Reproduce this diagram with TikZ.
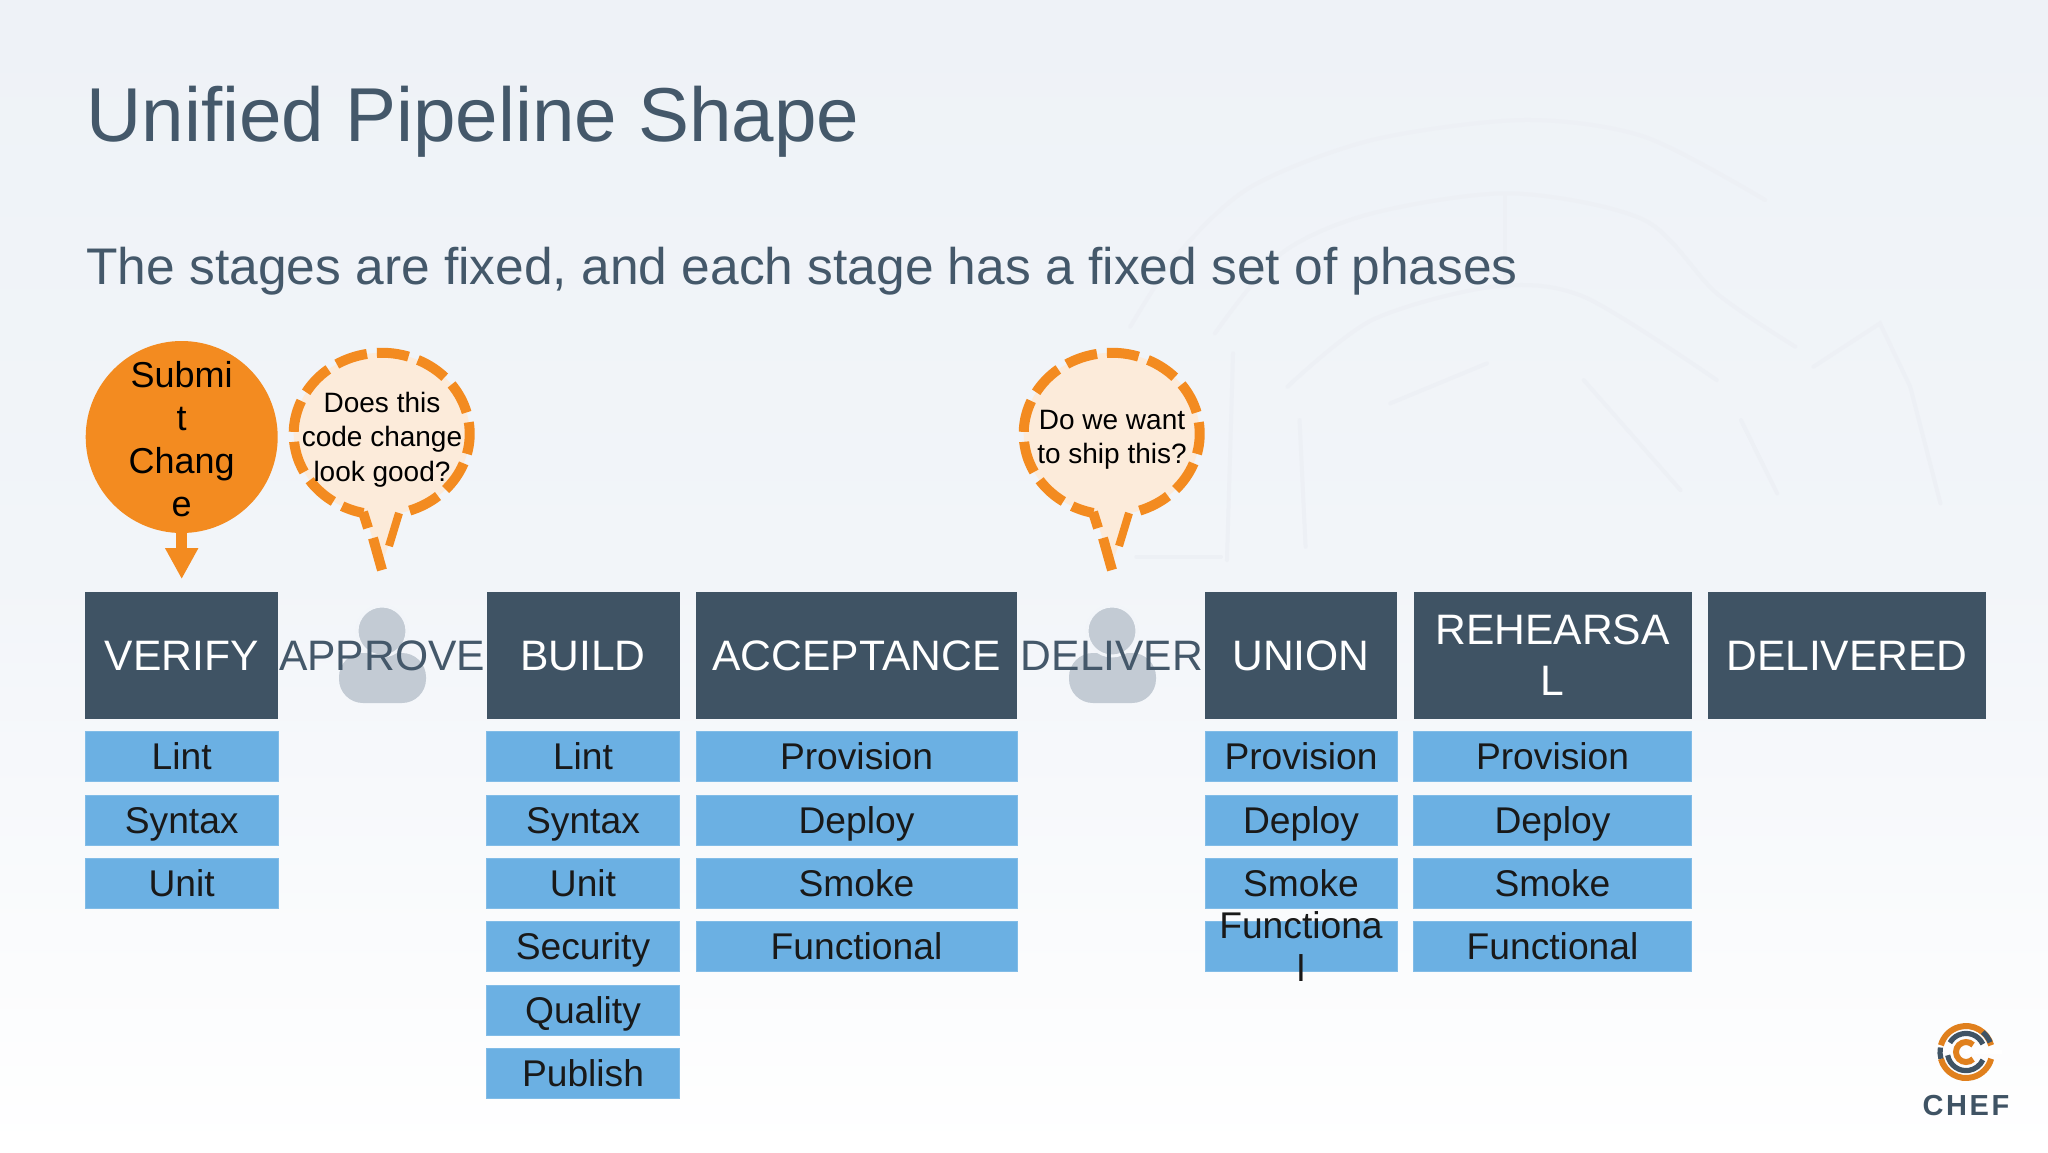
\documentclass[tikz,border=0pt]{standalone}
\usepackage{fontspec}
\setmainfont{Liberation Sans}
\usetikzlibrary{arrows.meta}
\definecolor{slatebox}{HTML}{3F5364}
\definecolor{slatetext}{HTML}{44586A}
\definecolor{phaseblue}{HTML}{6BB0E3}
\definecolor{chefor}{HTML}{F38B20}
\definecolor{bubblefill}{HTML}{FCEBDA}
\definecolor{persongray}{HTML}{C3CBD4}
\definecolor{bgtop}{HTML}{EEF2F7}
\definecolor{bgmid}{HTML}{F2F5F9}
\definecolor{wmark}{HTML}{EDF0F5}
\tikzset{
  stagebox/.style={fill=slatebox,text=white,minimum height=63.5pt,inner sep=0pt,align=center,font=\fontsize{21.3}{25.5}\selectfont},
  stagelabel/.style={text=slatetext,inner sep=0pt,font=\fontsize{21.3}{25.5}\selectfont},
  phasebox/.style={fill=phaseblue,draw=phaseblue!85!white,line width=.4pt,minimum height=25pt,inner sep=0pt,text height=13.3pt,text depth=0pt,text=black!90,font=\fontsize{18.6}{21.7}\selectfont},
  bubble/.style={draw=chefor,line width=5pt,dash pattern=on 16pt off 5pt,dash phase=16pt},
  tailseg/.style={draw=chefor,line width=5pt},
  bubbletext/.style={inner sep=0pt,align=center,text=black,font=\fontsize{14}{17.2}\selectfont},
  wm/.style={draw=wmark,line width=2pt,line cap=round},
  person/.style={fill=persongray,draw=none},
  logoor/.style={draw=chefor!92!black,line width=3pt},
  logodk/.style={draw=slatebox,line width=2.6pt},
}
\begin{document}
\begin{tikzpicture}[x=0.5pt,y=-0.5pt]
\useasboundingbox (0,0) rectangle (2048,1152);
\shade[top color=bgtop,bottom color=white,middle color=bgmid] (0,0) rectangle (2048,1152);
% watermark
\begin{scope}[shift={(1100,120)},x=0.3023pt,y=-0.1667pt]
\draw[wm] plot[smooth] coordinates {(50,620)(130,400)(250,200)(450,60)(700,0)(900,50)(1100,240)};
\draw[wm] plot[smooth] coordinates {(190,640)(300,400)(450,280)(680,220)(900,300)(1020,520)(1150,680)};
\draw[wm] plot[smooth] coordinates {(310,800)(450,600)(650,500)(800,530)(1020,780)};
\draw[wm] plot[smooth] coordinates {(480,850)(640,730)};
\draw[wm] (1180,740) -- (1290,610) -- (1340,800) -- (1390,1150);
\draw[wm] (670,230) -- (670,500);
\draw[wm] (800,780) -- (960,1110);
\draw[wm] (1060,900) -- (1120,1120);
\draw[wm] (210,1320) -- (220,700);
\draw[wm] (60,1310) -- (200,1310);
\draw[wm] (340,1280) -- (330,900);
\end{scope}
% title
\node[anchor=base west,inner sep=0pt,text=slatetext,font=\fontsize{38.2}{44}\selectfont] (title) at (86,141) {Unified Pipeline Shape};
\node[anchor=base west,inner sep=0pt,text=slatetext,font=\fontsize{25.75}{31}\selectfont] (subtitle) at (86,284) {The stages are fixed, and each stage has a fixed set of phases};
% stages
\node[stagebox,minimum width=96.5pt,text height=15pt,text depth=0pt] (verify) at (181.7,655) {VERIFY};
\node[stagebox,minimum width=96.5pt,text height=15pt,text depth=0pt] (build) at (583,655) {BUILD};
\node[stagebox,minimum width=160.5pt,text height=15pt,text depth=0pt] (accept) at (856.5,655) {ACCEPTANCE};
\node[stagebox,minimum width=96pt,text height=15pt,text depth=0pt] (union) at (1301,655) {UNION};
\node[stagebox,minimum width=139pt] (rehearsal) at (1552.5,655) {REHEARSA\\L};
\node[stagebox,minimum width=139pt,text height=15pt,text depth=0pt] (delivered) at (1847,655) {DELIVERED};
% persons
\fill[person,rounded corners=12pt] (339,703) -- (339,653) -- (426,653) -- (426,703) -- cycle;
\draw[person,draw=bgmid,line width=1.5pt] (382,631) circle[radius=12.5pt];
\fill[person,rounded corners=12pt] (1069,703) -- (1069,653) -- (1156,653) -- (1156,703) -- cycle;
\draw[person,draw=bgmid,line width=1.5pt] (1112,631) circle[radius=12.5pt];
\node[stagelabel,text height=15pt,text depth=0pt] (approve) at (382,655) {APPROVE};
\node[stagelabel,text height=15pt,text depth=0pt] (deliver) at (1112,655) {DELIVER};
% phases
\node[phasebox,minimum width=96.5pt] (v1) at (181.7,756.5) {Lint};
\node[phasebox,minimum width=96.5pt] (v2) at (181.7,820) {Syntax};
\node[phasebox,minimum width=96.5pt] (v3) at (181.7,883) {Unit};
\node[phasebox,minimum width=96.5pt] (b1) at (583,756.5) {Lint};
\node[phasebox,minimum width=96.5pt] (b2) at (583,820) {Syntax};
\node[phasebox,minimum width=96.5pt] (b3) at (583,883) {Unit};
\node[phasebox,minimum width=96.5pt] (b4) at (583,946.5) {Security};
\node[phasebox,minimum width=96.5pt] (b5) at (583,1010) {Quality};
\node[phasebox,minimum width=96.5pt] (b6) at (583,1073) {Publish};
\node[phasebox,minimum width=160.5pt] (a1) at (856.5,756.5) {Provision};
\node[phasebox,minimum width=160.5pt] (a2) at (856.5,820) {Deploy};
\node[phasebox,minimum width=160.5pt] (a3) at (856.5,883) {Smoke};
\node[phasebox,minimum width=160.5pt] (a4) at (856.5,946.5) {Functional};
\node[phasebox,minimum width=96pt] (u1) at (1301,756.5) {Provision};
\node[phasebox,minimum width=96pt] (u2) at (1301,820) {Deploy};
\node[phasebox,minimum width=96pt] (u3) at (1301,883) {Smoke};
\node[phasebox,minimum width=96pt] (u4) at (1301,946.5) {};
\node[inner sep=0pt,align=center,text=black!90,font=\fontsize{18.6}{21.7}\selectfont] (u4t) at (1301,946.5) {Functiona\\l};
\node[phasebox,minimum width=139pt] (r1) at (1552.5,756.5) {Provision};
\node[phasebox,minimum width=139pt] (r2) at (1552.5,820) {Deploy};
\node[phasebox,minimum width=139pt] (r3) at (1552.5,883) {Smoke};
\node[phasebox,minimum width=139pt] (r4) at (1552.5,946.5) {Functional};
% submit
\node[circle,fill=chefor,minimum size=96pt,inner sep=0pt] (submit) at (181.7,437) {};
\node[inner sep=0pt,align=center,text=black,font=\fontsize{18}{21.5}\selectfont] (submitt) at (181.7,439) {Submi\\t\\Chang\\e};
\draw[chefor,line width=5.5pt,shorten >=6pt,-{Triangle[length=15.5pt,width=15.5pt]}] (submit.south) -- (verify.north);
% bubbles
\fill[bubblefill] (400,513) arc[start angle=-78,end angle=258,x radius=44pt,y radius=40.5pt] -- (369,527) -- (381,566) -- cycle;
\draw[bubble] (400,513) arc[start angle=-78,end angle=258,x radius=44pt,y radius=40.5pt];
\draw[tailseg] (363,512) -- (368,528);
\draw[tailseg] (373,538) -- (382,570);
\draw[tailseg,line width=4pt] (399,513) -- (389,546);
\node[bubbletext] (q1) at (382,439.5) {Does this\\code change\\look good?};
\fill[bubblefill] (1130,513) arc[start angle=-78,end angle=258,x radius=44pt,y radius=40.5pt] -- (1099,527) -- (1111,566) -- cycle;
\draw[bubble] (1130,513) arc[start angle=-78,end angle=258,x radius=44pt,y radius=40.5pt];
\draw[tailseg] (1093,512) -- (1098,528);
\draw[tailseg] (1103,538) -- (1112,570);
\draw[tailseg,line width=4pt] (1129,513) -- (1119,546);
\node[bubbletext] (q2) at (1112,439.5) {Do we want\\to ship this?};
% logo
\coordinate (lc) at (1966,1052);
\draw[logoor] (lc) ++(15:13pt) arc[start angle=15,end angle=165,radius=13pt];
\draw[logoor] (lc) ++(195:13pt) arc[start angle=195,end angle=345,radius=13pt];
\draw[logodk] (lc) ++(25:9.3pt) arc[start angle=25,end angle=150,radius=9.3pt];
\draw[logodk] (lc) ++(190:9.3pt) arc[start angle=190,end angle=335,radius=9.3pt];
\draw[logodk] (lc) ++(22:13pt) arc[start angle=22,end angle=50,radius=13pt];
\draw[logodk] (lc) ++(170:13pt) arc[start angle=170,end angle=195,radius=13pt];
\draw[logoor] (lc) ++(45:5pt) arc[start angle=45,end angle=315,radius=5pt];
\draw[white,line width=2.4pt] (lc) -- ++(18pt,0pt);
\node[inner sep=0pt,text=slatebox,font=\bfseries\fontsize{14.5}{14}\selectfont\addfontfeature{LetterSpace=9}] (chef) at (1966,1105) {CHEF};
\end{tikzpicture}
\end{document}
